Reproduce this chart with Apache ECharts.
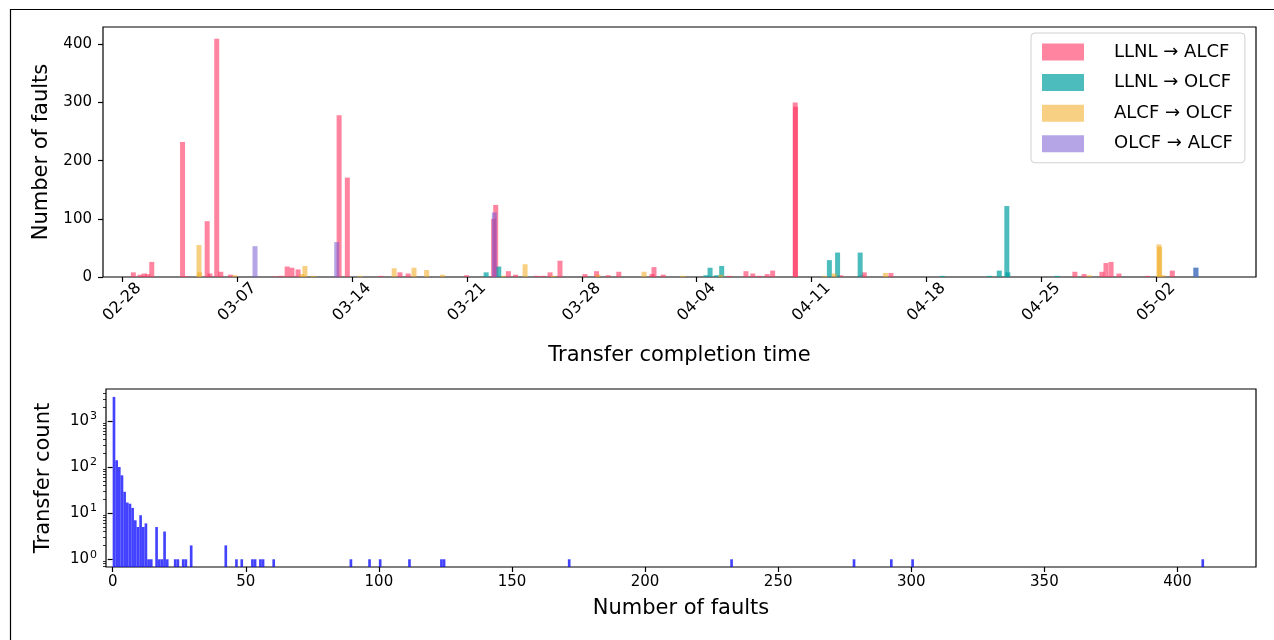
<!DOCTYPE html>
<html>
<head>
    <meta http-equiv="Content-type" content="text/html; charset=utf-8">
    <title>Transfer faults</title>
    <script src="https://cdn.jsdelivr.net/npm/echarts@6.0.0/dist/echarts.min.js"></script>
    <style>
        html, body { margin: 0; padding: 0; background: #fff; }
        #container { width: 1274px; height: 640px; }
    </style>
</head>
<body>
<div id="container"></div>
<script type="text/javascript">
// faults per transfer, by completion time (year 2022)
var llnlAlcf = [
    ['02-28 16:00', 8], ['03-01 02:00', 4], ['03-01 08:00', 6], ['03-01 13:00', 5], ['03-01 19:00', 26],
    ['03-03 16:00', 232], ['03-03 21:00', 1], ['03-05 04:00', 96], ['03-05 08:00', 6], ['03-05 18:00', 410],
    ['03-06 00:00', 9], ['03-06 14:00', 4], ['03-09 07:00', 1], ['03-09 16:00', 2], ['03-10 01:00', 18],
    ['03-10 08:00', 16], ['03-10 17:00', 13], ['03-13 05:00', 278], ['03-13 17:00', 171], ['03-15 18:00', 2],
    ['03-16 22:00', 8], ['03-17 10:00', 6], ['03-20 23:30', 3], ['03-22 15:00', 100], ['03-22 18:00', 124],
    ['03-23 12:30', 10], ['03-23 23:00', 4], ['03-25 06:00', 2], ['03-25 15:00', 2], ['03-26 01:30', 8],
    ['03-26 16:00', 28], ['03-28 04:30', 5], ['03-28 21:30', 10], ['03-29 14:30', 3], ['03-30 06:00', 9],
    ['04-01 06:30', 5], ['04-01 09:30', 17], ['04-01 23:00', 4], ['04-05 23:30', 2], ['04-07 00:00', 10],
    ['04-07 10:00', 6], ['04-07 19:30', 2], ['04-08 07:00', 5], ['04-08 15:00', 11], ['04-10 00:00', 300],
    ['04-10 00:30', 293], ['04-12 18:30', 3], ['04-14 01:30', 3], ['04-14 05:00', 8], ['04-15 20:00', 7],
    ['04-27 01:00', 9], ['04-27 14:30', 5], ['04-28 16:30', 9], ['04-28 22:30', 24], ['04-29 06:00', 26],
    ['04-29 17:30', 6], ['05-01 11:30', 2], ['05-02 23:30', 11]
];
var llnlOlcf = [
    ['03-22 04:00', 8], ['03-22 22:30', 18], ['04-04 13:30', 3], ['04-04 19:30', 16], ['04-05 05:00', 3],
    ['04-05 12:30', 19], ['04-12 02:00', 29], ['04-12 14:00', 42], ['04-13 23:00', 42], ['04-18 23:00', 2],
    ['04-21 20:00', 2], ['04-22 10:30', 11], ['04-22 21:30', 122], ['04-22 23:00', 8], ['04-25 23:00', 2],
    ['05-04 10:00', 16]
];
var alcfOlcf = [
    ['03-04 16:00', 55], ['03-04 17:00', 8], ['03-06 20:30', 3], ['03-10 22:30', 5], ['03-11 03:00', 19],
    ['03-11 15:00', 2], ['03-14 11:30', 2], ['03-16 13:30', 15], ['03-17 18:30', 16], ['03-18 13:00', 12],
    ['03-19 12:00', 4], ['03-23 05:00', 2], ['03-24 13:00', 22], ['03-26 06:00', 2], ['03-28 23:30', 4],
    ['03-31 19:00', 9], ['04-03 03:30', 2], ['04-05 11:30', 4], ['04-11 19:30', 2], ['04-12 09:00', 6],
    ['04-15 12:00', 7], ['04-27 22:00', 3], ['05-02 04:00', 56], ['05-02 05:00', 52], ['05-02 10:00', 3]
];
var olcfAlcf = [
    ['03-08 02:00', 53], ['03-13 01:30', 60], ['03-22 16:00', 111], ['05-04 10:00', 16]
];
var dateTicks = ['02-28', '03-07', '03-14', '03-21', '03-28', '04-04', '04-11', '04-18', '04-25', '05-02'];

// histogram: number of faults (bin start) -> transfer count
var faultBins = [0, 1, 2, 3, 4, 5, 6, 7, 8, 9, 10, 11, 12, 13, 14, 16, 17, 18, 19, 20,
    23, 24, 26, 27, 29, 42, 46, 48, 52, 53, 55, 56, 60, 89, 96, 100, 111, 123, 124, 171,
    232, 278, 292, 300, 409];
var transferCounts = [3300, 140, 100, 66, 29, 17, 16, 13, 7, 5, 9, 5, 6, 1, 1, 5, 1, 1, 4, 1,
    1, 1, 1, 1, 2, 2, 1, 1, 1, 1, 1, 1, 1, 1, 1, 1, 1, 1, 1, 1,
    1, 1, 1, 1, 1];
var logTicks = [1, 10, 100, 1000];
var logMinor = [0.7, 0.8, 0.9, 2, 3, 4, 5, 6, 7, 8, 9, 20, 30, 40, 50, 60, 70, 80, 90,
    200, 300, 400, 500, 600, 700, 800, 900, 2000, 3000, 4000];
var faultTicks = [0, 50, 100, 150, 200, 250, 300, 350, 400];

var DAY = 86400000;
function toMs(s) {
    var m = +s.slice(0, 2), d = +s.slice(3, 5);
    var h = s.length > 5 ? +s.slice(6, 8) : 0, mi = s.length > 5 ? +s.slice(9, 11) : 0;
    return Date.UTC(2022, m - 1, d, h, mi);
}
function pts(arr) {
    return arr.map(function (p) { return [toMs(p[0]), p[1]]; });
}
var t0 = toMs('02-28');
var tickMs = dateTicks.map(toMs);

var font = 'DejaVu Sans';

var dom = document.getElementById('container');
var myChart = echarts.init(dom, null, {renderer: 'canvas'});

function barSeries(name, data, color) {
    return {
        name: name,
        type: 'bar',
        data: pts(data),
        barWidth: 5,
        barGap: '-100%',
        itemStyle: {color: color},
        xAxisIndex: 0,
        yAxisIndex: 0
    };
}

function histItem(params, api) {
    var x0 = api.value(0), c = api.value(1);
    var p1 = api.coord([x0, c]);
    var p2 = api.coord([x0 + 1, c]);
    var bottom = params.coordSys.y + params.coordSys.height;
    return {
        type: 'rect',
        shape: {x: p1[0], y: p1[1], width: Math.max(p2[0] - p1[0], 2), height: bottom - p1[1]},
        style: {fill: 'rgba(20,20,255,0.8)'}
    };
}

var tickStyle = {color: '#000', width: 1.2};

var option = {
    backgroundColor: '#fff',
    textStyle: {fontFamily: font, color: '#000'},
    animation: false,
    graphic: [{
        type: 'rect', left: 8, top: 7, z: -10,
        shape: {width: 1320, height: 700},
        style: {fill: 'none', stroke: '#000', lineWidth: 1.2}
    }],
    grid: [
        {left: 103, top: 27, width: 1153, height: 250, show: true, borderColor: '#000', borderWidth: 1.2},
        {left: 106, top: 389, width: 1150, height: 178, show: true, borderColor: '#000', borderWidth: 1.2}
    ],
    legend: {
        data: ['LLNL \u2192 ALCF', 'LLNL \u2192 OLCF', 'ALCF \u2192 OLCF', 'OLCF \u2192 ALCF'],
        orient: 'vertical',
        left: 1031,
        top: 33,
        icon: 'rect',
        itemWidth: 42,
        itemHeight: 17,
        itemGap: 12.6,
        padding: [10, 12, 10, 11],
        borderColor: '#d0d0d0',
        borderWidth: 1,
        borderRadius: 4,
        textStyle: {fontSize: 18, fontFamily: font, color: '#000', padding: [0, 0, 0, 25]}
    },
    xAxis: [{
        type: 'value',
        gridIndex: 0,
        min: t0 - 1.18 * DAY,
        max: t0 + 69.08 * DAY,
        splitLine: {show: false},
        axisLine: {show: false},
        axisTick: {show: true, length: 5, lineStyle: tickStyle, customValues: tickMs},
        axisLabel: {
            customValues: tickMs, rotate: 45, fontSize: 16, color: '#000', margin: 25,
            align: 'center', verticalAlign: 'middle',
            formatter: function (v) { return echarts.time.format(v, '{MM}-{dd}', true); }
        },
        name: 'Transfer completion time',
        nameLocation: 'middle',
        nameGap: 68,
        nameTextStyle: {fontSize: 21, color: '#000', verticalAlign: 'top'}
    }, {
        type: 'value',
        gridIndex: 1,
        min: -2.5,
        max: 429.5,
        splitLine: {show: false},
        axisLine: {show: false},
        axisTick: {show: true, length: 5, lineStyle: tickStyle, customValues: faultTicks},
        axisLabel: {customValues: faultTicks, fontSize: 15, color: '#000', margin: 8},
        name: 'Number of faults',
        nameLocation: 'middle',
        nameGap: 31,
        nameTextStyle: {fontSize: 21, color: '#000', verticalAlign: 'top'}
    }],
    yAxis: [{
        type: 'value',
        gridIndex: 0,
        min: 0,
        max: 430,
        interval: 100,
        splitLine: {show: false},
        axisLine: {show: false},
        axisTick: {show: true, length: 5, lineStyle: tickStyle},
        axisLabel: {fontSize: 15, color: '#000', margin: 11, showMaxLabel: false},
        name: 'Number of faults',
        nameLocation: 'middle',
        nameGap: 51,
        nameTextStyle: {fontSize: 21, color: '#000', verticalAlign: 'bottom'}
    }, {
        type: 'log',
        gridIndex: 1,
        position: 'left',
        logBase: 10,
        min: 0.68,
        max: 4900,
        splitLine: {show: false},
        axisLine: {show: false},
        axisTick: {show: true, length: 5, lineStyle: tickStyle, customValues: logTicks},
        axisLabel: {
            customValues: logTicks, color: '#000', margin: 9,
            formatter: function (v) {
                return '{b|10}{s|' + Math.round(Math.log10(v)) + '}';
            },
            rich: {
                b: {fontSize: 15, fontFamily: font, color: '#000'},
                s: {fontSize: 11, fontFamily: font, color: '#000', padding: [0, 0, 9, 1]}
            }
        },
        name: 'Transfer count',
        nameLocation: 'middle',
        nameGap: 52,
        nameTextStyle: {fontSize: 21, color: '#000', verticalAlign: 'bottom'}
    }, {
        type: 'log',
        gridIndex: 1,
        position: 'left',
        offset: 0,
        logBase: 10,
        min: 0.68,
        max: 4900,
        splitLine: {show: false},
        axisLine: {show: false},
        axisTick: {show: true, length: 3, lineStyle: {color: '#000', width: 0.8}, customValues: logMinor},
        axisLabel: {show: false}
    }],
    series: [
        barSeries('LLNL \u2192 ALCF', llnlAlcf, 'rgba(255,50,95,0.6)'),
        barSeries('LLNL \u2192 OLCF', llnlOlcf, 'rgba(0,160,160,0.7)'),
        barSeries('ALCF \u2192 OLCF', alcfOlcf, 'rgba(240,170,30,0.55)'),
        barSeries('OLCF \u2192 ALCF', olcfAlcf, 'rgba(120,90,210,0.55)'),
        {
            name: 'hist',
            type: 'custom',
            xAxisIndex: 1,
            yAxisIndex: 1,
            renderItem: histItem,
            encode: {x: 0, y: 1},
            data: faultBins.map(function (b, i) { return [b, transferCounts[i]]; })
        }
    ]
};

myChart.setOption(option, true);
</script>
</body>
</html>
